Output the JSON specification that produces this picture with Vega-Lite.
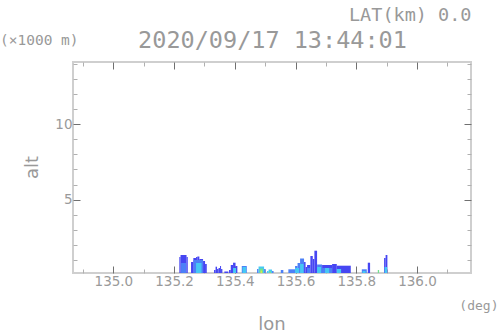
{
  "$schema": "https://vega.github.io/schema/vega-lite/v6.json",
  "width": 398,
  "height": 211,
  "autosize": {"type": "none"},
  "padding": {"left": 73, "top": 62, "right": 27, "bottom": 63},
  "background": "white",
  "config": {
    "view": {"stroke": "#cfcfcf", "strokeWidth": 2},
    "axis": {"grid": false, "domain": false, "labelFont": "DejaVu Sans", "labelFontSize": 13.5, "labelColor": "#9a9a9a", "titleColor": "#999999", "titleFontWeight": "normal", "tickWidth": 1}
  },
  "title": {"text": "lon", "orient": "bottom", "anchor": "middle", "frame": "group", "font": "DejaVu Sans", "fontSize": 18, "fontWeight": "normal", "color": "#999999", "baseline": "alphabetic", "offset": 0, "dy": 18},
  "data": {"values": [
    {"lon0": 135.2173, "lon1": 135.2212, "alt": 1.208, "c": "d"},
    {"lon0": 135.2212, "lon1": 135.2410, "alt": 1.340, "c": "d"},
    {"lon0": 135.2410, "lon1": 135.2450, "alt": 1.208, "c": "d"},
    {"lon0": 135.2558, "lon1": 135.2634, "alt": 0.877, "c": "d"},
    {"lon0": 135.2634, "lon1": 135.2723, "alt": 1.142, "c": "d"},
    {"lon0": 135.2723, "lon1": 135.2766, "alt": 1.208, "c": "d"},
    {"lon0": 135.2766, "lon1": 135.2832, "alt": 1.241, "c": "d"},
    {"lon0": 135.2832, "lon1": 135.2954, "alt": 1.076, "c": "d"},
    {"lon0": 135.2954, "lon1": 135.3020, "alt": 0.943, "c": "d"},
    {"lon0": 135.3020, "lon1": 135.3076, "alt": 0.745, "c": "d"},
    {"lon0": 135.3316, "lon1": 135.3366, "alt": 0.348, "c": "d"},
    {"lon0": 135.3366, "lon1": 135.3415, "alt": 0.567, "c": "d"},
    {"lon0": 135.3415, "lon1": 135.3464, "alt": 0.414, "c": "d"},
    {"lon0": 135.3464, "lon1": 135.3514, "alt": 0.481, "c": "d"},
    {"lon0": 135.3514, "lon1": 135.3547, "alt": 0.613, "c": "d"},
    {"lon0": 135.3547, "lon1": 135.3590, "alt": 0.414, "c": "d"},
    {"lon0": 135.3655, "lon1": 135.3787, "alt": 0.249, "c": "d"},
    {"lon0": 135.3810, "lon1": 135.3866, "alt": 0.348, "c": "d"},
    {"lon0": 135.3866, "lon1": 135.3942, "alt": 0.679, "c": "d"},
    {"lon0": 135.3942, "lon1": 135.4024, "alt": 0.831, "c": "d"},
    {"lon0": 135.4024, "lon1": 135.4084, "alt": 0.613, "c": "d"},
    {"lon0": 135.4229, "lon1": 135.4394, "alt": 0.613, "c": "m"},
    {"lon0": 135.4733, "lon1": 135.4782, "alt": 0.414, "c": "m"},
    {"lon0": 135.4782, "lon1": 135.4964, "alt": 0.580, "c": "c"},
    {"lon0": 135.4964, "lon1": 135.5013, "alt": 0.414, "c": "m"},
    {"lon0": 135.5062, "lon1": 135.5112, "alt": 0.282, "c": "c"},
    {"lon0": 135.5112, "lon1": 135.5227, "alt": 0.381, "c": "c"},
    {"lon0": 135.5227, "lon1": 135.5277, "alt": 0.282, "c": "m"},
    {"lon0": 135.5514, "lon1": 135.5599, "alt": 0.348, "c": "m"},
    {"lon0": 135.5764, "lon1": 135.5985, "alt": 0.395, "c": "m"},
    {"lon0": 135.5985, "lon1": 135.6067, "alt": 0.613, "c": "m"},
    {"lon0": 135.6067, "lon1": 135.6150, "alt": 0.811, "c": "m"},
    {"lon0": 135.6150, "lon1": 135.6281, "alt": 1.109, "c": "m"},
    {"lon0": 135.6281, "lon1": 135.6331, "alt": 0.877, "c": "d"},
    {"lon0": 135.6331, "lon1": 135.6380, "alt": 0.547, "c": "d"},
    {"lon0": 135.6380, "lon1": 135.6489, "alt": 0.679, "c": "d"},
    {"lon0": 135.6489, "lon1": 135.6568, "alt": 1.274, "c": "d"},
    {"lon0": 135.6568, "lon1": 135.6621, "alt": 1.076, "c": "d"},
    {"lon0": 135.6621, "lon1": 135.6710, "alt": 1.624, "c": "d"},
    {"lon0": 135.6710, "lon1": 135.6875, "alt": 0.712, "c": "m"},
    {"lon0": 135.6875, "lon1": 135.7204, "alt": 0.679, "c": "d"},
    {"lon0": 135.7204, "lon1": 135.7359, "alt": 0.745, "c": "d"},
    {"lon0": 135.7359, "lon1": 135.7820, "alt": 0.633, "c": "d"},
    {"lon0": 135.8183, "lon1": 135.8347, "alt": 0.395, "c": "m"},
    {"lon0": 135.8380, "lon1": 135.8456, "alt": 0.831, "c": "d"},
    {"lon0": 135.8710, "lon1": 135.8753, "alt": 0.348, "c": "g"},
    {"lon0": 135.8917, "lon1": 135.8967, "alt": 1.142, "c": "d"},
    {"lon0": 135.8967, "lon1": 135.9026, "alt": 1.340, "c": "d"},
    {"lon0": 135.2229, "lon1": 135.2394, "alt": 0.811, "c": "m"},
    {"lon0": 135.2641, "lon1": 135.2954, "alt": 1.010, "c": "m"},
    {"lon0": 135.6875, "lon1": 135.7204, "alt": 0.481, "c": "m"},
    {"lon0": 135.6380, "lon1": 135.6479, "alt": 0.481, "c": "m"},
    {"lon0": 135.2723, "lon1": 135.2904, "alt": 0.811, "c": "c"},
    {"lon0": 135.3942, "lon1": 135.4041, "alt": 0.481, "c": "c"},
    {"lon0": 135.4255, "lon1": 135.4370, "alt": 0.547, "c": "c"},
    {"lon0": 135.5985, "lon1": 135.6117, "alt": 0.481, "c": "c"},
    {"lon0": 135.6150, "lon1": 135.6265, "alt": 0.745, "c": "c"},
    {"lon0": 135.6710, "lon1": 135.6842, "alt": 0.547, "c": "c"},
    {"lon0": 135.6973, "lon1": 135.7105, "alt": 0.481, "c": "c"},
    {"lon0": 135.7359, "lon1": 135.7501, "alt": 0.414, "c": "c"},
    {"lon0": 135.8209, "lon1": 135.8308, "alt": 0.282, "c": "c"},
    {"lon0": 135.8934, "lon1": 135.9016, "alt": 0.547, "c": "c"},
    {"lon0": 135.4815, "lon1": 135.4931, "alt": 0.448, "c": "g"},
    {"lon0": 135.5128, "lon1": 135.5194, "alt": 0.249, "c": "g"},
    {"lon0": 135.4848, "lon1": 135.4898, "alt": 0.315, "c": "y"}
  ]},
  "layer": [
    {
      "mark": {"type": "rect", "clip": true},
      "encoding": {
        "x": {"field": "lon0", "type": "quantitative",
          "scale": {"domain": [134.867, 136.178], "nice": false, "zero": false},
          "axis": {"orient": "bottom",
            "values": [134.9, 135.0, 135.1, 135.2, 135.3, 135.4, 135.5, 135.6, 135.7, 135.8, 135.9, 136.0, 136.1],
            "labelExpr": "round(datum.value*10) % 2 == 0 ? format(datum.value, '.1f') : ''",
            "tickSize": {"condition": {"test": "round(datum.value*10) % 2 == 0", "value": -7}, "value": -4},
            "tickColor": {"condition": {"test": "round(datum.value*10) % 2 == 0", "value": "#707070"}, "value": "#b0b0b0"},
            "labelBaseline": "alphabetic", "labelPadding": 19, "labelFlush": false,
            "title": "(deg)", "titleFont": "DejaVu Sans Mono", "titleFontSize": 13, "titleAlign": "right", "titleAnchor": "end",
            "titleBaseline": "alphabetic", "titleX": 425, "titleY": 36}},
        "x2": {"field": "lon1"},
        "y": {"field": "alt", "type": "quantitative",
          "scale": {"domain": [0.15, 14.1], "nice": false, "zero": false},
          "axis": {"orient": "left",
            "values": [1, 2, 3, 4, 5, 6, 7, 8, 9, 10, 11, 12, 13, 14],
            "labelExpr": "datum.value % 5 == 0 ? format(datum.value, 'd') : ''",
            "tickSize": {"condition": {"test": "datum.value % 5 == 0", "value": -7}, "value": -4},
            "tickColor": {"condition": {"test": "datum.value % 5 == 0", "value": "#707070"}, "value": "#b0b0b0"},
            "labelAlign": "right", "labelBaseline": "middle", "labelPadding": 8, "labelFlush": false,
            "title": "alt", "titleFont": "DejaVu Sans", "titleFontSize": 18, "titleAngle": -90, "titleAlign": "center",
            "titleBaseline": "alphabetic", "titleX": -36, "titleY": 105}},
        "y2": {"datum": 0},
        "color": {"field": "c", "type": "nominal",
          "scale": {"domain": ["d", "m", "c", "g", "y"], "range": ["#4646f2", "#4c80f7", "#46c8f4", "#72e090", "#d4e850"]},
          "legend": {"orient": "none", "legendX": -73, "legendY": -28, "title": "(×1000 m)", "titleFont": "DejaVu Sans Mono", "titleFontSize": 14.5, "titleFontWeight": "normal", "titleColor": "#999999", "symbolOpacity": 0, "symbolStrokeWidth": 0, "labelOpacity": 0}}
      }
    },
    {
      "mark": {"type": "point", "opacity": 0, "size": 0},
      "encoding": {
        "x": {"field": "lon0", "type": "quantitative",
          "axis": {"orient": "top",
            "values": [134.9, 135.0, 135.1, 135.2, 135.3, 135.4, 135.5, 135.6, 135.7, 135.8, 135.9, 136.0, 136.1],
            "labels": false,
            "tickSize": {"condition": {"test": "round(datum.value*10) % 2 == 0", "value": -7}, "value": -4},
            "tickColor": {"condition": {"test": "round(datum.value*10) % 2 == 0", "value": "#707070"}, "value": "#b0b0b0"},
            "title": "2020/09/17 13:44:01", "titleFont": "DejaVu Sans Mono", "titleFontSize": 23.5, "titleBaseline": "alphabetic",
            "titleAlign": "center", "titleX": 199, "titleY": -15}},
        "y": {"field": "alt", "type": "quantitative",
          "axis": {"orient": "right",
            "values": [1, 2, 3, 4, 5, 6, 7, 8, 9, 10, 11, 12, 13, 14],
            "labels": false,
            "tickSize": {"condition": {"test": "datum.value % 5 == 0", "value": -7}, "value": -4},
            "tickColor": {"condition": {"test": "datum.value % 5 == 0", "value": "#707070"}, "value": "#b0b0b0"},
            "title": "LAT(km) 0.0", "titleFont": "DejaVu Sans Mono", "titleFontSize": 18.5, "titleAngle": 0, "titleAlign": "right",
            "titleBaseline": "alphabetic", "titleX": 0, "titleY": -42}}
      }
    }
  ],
  "resolve": {"axis": {"x": "independent", "y": "independent"}}
}
